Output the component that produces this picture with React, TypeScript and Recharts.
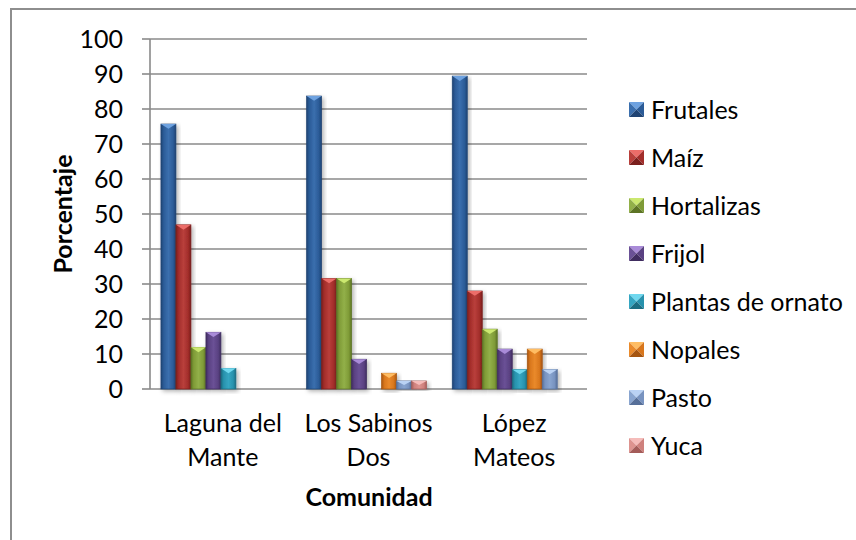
import React from 'react';
import { Bar, BarChart, CartesianGrid, Label, XAxis, YAxis } from 'recharts';

// values (percent)
const communities = ['Laguna del Mante', 'Los Sabinos Dos', 'López Mateos'];
const seriesNames = ['Frutales', 'Maíz', 'Hortalizas', 'Frijol', 'Plantas de ornato', 'Nopales', 'Pasto', 'Yuca'];
const frutales = [75.7, 83.7, 89.4];
const maiz = [46.9, 31.6, 28.0];
const hortalizas = [11.9, 31.6, 17.1];
const frijol = [16.2, 8.5, 11.4];
const plantasOrnato = [5.9, 0, 5.6];
const nopales = [0, 4.5, 11.4];
const pasto = [0, 2.3, 5.6];
const yuca = [0, 2.3, 0];
const yTicks = [0, 10, 20, 30, 40, 50, 60, 70, 80, 90, 100];
const edgeTicks = [0, 1, 2, 3];

const seriesValues = [frutales, maiz, hortalizas, frijol, plantasOrnato, nopales, pasto, yuca];

const data = communities.map((community, i) => {
  const row: Record<string, string | number> = { community };
  seriesNames.forEach((name, s) => {
    row[name] = seriesValues[s][i];
  });
  return row;
});

// base / highlight / cap / edge for each series
const palette = [
  { base: '#2b5b97', mid: '#3b6fae', cap: '#6ea2e0', edge: '#1f4373' },
  { base: '#a22d2a', mid: '#b93f3b', cap: '#ec6d69', edge: '#7a1f1d' },
  { base: '#7f9b37', mid: '#92b049', cap: '#cbe86f', edge: '#5d7425' },
  { base: '#5a4182', mid: '#6a5196', cap: '#a98bd8', edge: '#402d60' },
  { base: '#2892ad', mid: '#35a6c2', cap: '#70d8ef', edge: '#1b6d82' },
  { base: '#d8761c', mid: '#ea8a2b', cap: '#ffbd63', edge: '#a65510' },
  { base: '#7893c0', mid: '#89a5d0', cap: '#bad2f4', edge: '#566f99' },
  { base: '#cf817d', mid: '#dd938f', cap: '#f5bcba', edge: '#a45c59' },
];

const FONT = 'Lato, "Open Sans", sans-serif';
const FONT_SIZE = 25;
const GRAY = '#8a8a8a';
const LINE_W = 1.6;

const BevelBar = (props: any) => {
  const { x, y, width, height, s } = props;
  if (!height || height < 0.5) return null;
  const c = palette[s];
  const cap = Math.min(width * 0.32, height / 2);
  return (
    <g filter="url(#barShadow)">
      <rect x={x} y={y} width={width} height={height} fill={`url(#grad${s})`} stroke={c.edge} strokeWidth={0.7} />
      <polygon points={`${x},${y} ${x + width},${y} ${x + width / 2},${y + cap}`} fill={c.cap} />
    </g>
  );
};

const CategoryTick = (props: any) => {
  const { x, y, payload } = props;
  const label: string = payload.value;
  const cut = label.lastIndexOf(' ');
  const lines = [label.slice(0, cut), label.slice(cut + 1)];
  return (
    <text x={x} y={y} textAnchor="middle" fontFamily={FONT} fontSize={FONT_SIZE} fill="#000">
      {lines.map((line, i) => (
        <tspan key={i} x={x} dy={i === 0 ? 43 : 34}>
          {line}
        </tspan>
      ))}
    </text>
  );
};

const LegendMarker = ({ s }: { s: number }) => {
  const c = palette[s];
  return (
    <svg width={15} height={15} style={{ display: 'block' }}>
      <polygon points="0,0 15,0 7.5,7.5" fill={c.cap} />
      <polygon points="0,0 7.5,7.5 0,15" fill={c.mid} />
      <polygon points="15,0 7.5,7.5 15,15" fill={c.base} />
      <polygon points="0,15 7.5,7.5 15,15" fill={c.edge} />
    </svg>
  );
};

export default function App() {
  return (
    <div style={{ position: 'absolute', left: 0, top: 0, width: 856, height: 540, background: '#fff', overflow: 'hidden' }}>
      <div
        style={{
          position: 'absolute',
          left: 10,
          top: 8,
          width: 860,
          height: 560,
          borderLeft: `2px solid #8e8e8e`,
          borderTop: `2px solid #8e8e8e`,
        }}
      />
      <div style={{ position: 'absolute', left: 0, top: 0 }}>
        <BarChart
          width={856}
          height={540}
          data={data}
          margin={{ top: 39, right: 269, bottom: 51, left: 10 }}
          barCategoryGap="7.5%"
          barGap={0}
        >
          <defs>
            {palette.map((c, s) => (
              <linearGradient key={s} id={`grad${s}`} x1="0" y1="0" x2="1" y2="0">
                <stop offset="0%" stopColor={c.edge} />
                <stop offset="18%" stopColor={c.base} />
                <stop offset="50%" stopColor={c.mid} />
                <stop offset="82%" stopColor={c.base} />
                <stop offset="100%" stopColor={c.edge} />
              </linearGradient>
            ))}
            <filter id="barShadow" x="-30%" y="-10%" width="160%" height="130%">
              <feDropShadow dx="2" dy="2" stdDeviation="2" floodColor="#000" floodOpacity="0.3" />
            </filter>
          </defs>
          <CartesianGrid vertical={false} stroke={GRAY} strokeWidth={LINE_W} />
          <XAxis
            xAxisId="edge"
            type="number"
            domain={[0, 3]}
            ticks={edgeTicks}
            tick={false}
            tickSize={8}
            height={0}
            stroke={GRAY}
            strokeWidth={LINE_W}
          />
          <XAxis
            dataKey="community"
            axisLine={false}
            tickLine={false}
            tickSize={0}
            tickMargin={0}
            height={100}
            interval={0}
            tick={<CategoryTick />}
          >
            <Label
              content={() => (
                <text x={369} y={506} textAnchor="middle" fontFamily={FONT} fontWeight="bold" fontSize={FONT_SIZE} fill="#000">
                  Comunidad
                </text>
              )}
            />
          </XAxis>
          <YAxis
            width={140}
            domain={[0, 100]}
            ticks={yTicks}
            interval={0}
            tickSize={8}
            tickMargin={19}
            stroke={GRAY}
            strokeWidth={LINE_W}
            tick={{ fill: '#000', fontSize: FONT_SIZE, fontFamily: FONT }}
          >
            <Label
              content={() => (
                <text
                  x={62}
                  y={214}
                  transform="rotate(-90 62 214)"
                  textAnchor="middle"
                  dominantBaseline="central"
                  fontFamily={FONT}
                  fontWeight="bold"
                  fontSize={FONT_SIZE}
                  fill="#000"
                >
                  Porcentaje
                </text>
              )}
            />
          </YAxis>
          {seriesNames.map((name, s) => (
            <Bar
              key={name}
              dataKey={name}
              fill={palette[s].base}
              isAnimationActive={false}
              shape={(p: any) => <BevelBar {...p} s={s} />}
            />
          ))}
        </BarChart>
      </div>
      <div style={{ position: 'absolute', left: 629, top: 85, fontFamily: FONT, fontSize: FONT_SIZE, color: '#000' }}>
        {seriesNames.map((name, s) => (
          <div key={name} style={{ display: 'flex', alignItems: 'center', height: 48, gap: 7 }}>
            <LegendMarker s={s} />
            <span style={{ lineHeight: 1 }}>{name}</span>
          </div>
        ))}
      </div>
    </div>
  );
}
